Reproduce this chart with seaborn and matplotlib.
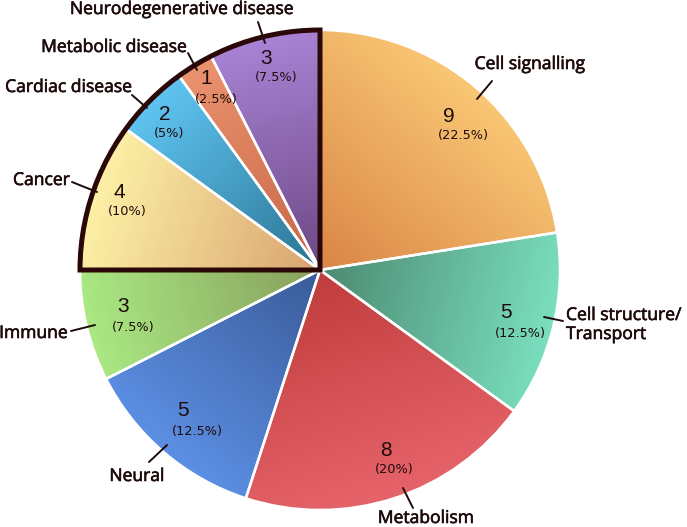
import numpy as np
import matplotlib
matplotlib.use("Agg")
import matplotlib.pyplot as plt
import matplotlib.patheffects as pe
import seaborn as sns
from matplotlib.colors import LinearSegmentedColormap
from matplotlib.path import Path
from matplotlib.patches import PathPatch

# ---------------- data ----------------
categories = ["Cell signalling", "Cell structure/\nTransport", "Metabolism", "Neural",
              "Immune", "Cancer", "Cardiac disease", "Metabolic disease",
              "Neurodegenerative disease"]
counts = [9, 5, 8, 5, 3, 4, 2, 1, 3]
light_colors = ["#F9C774", "#7ADFBF", "#E6636A", "#5C8FE4", "#AAE983",
                "#FDF1A6", "#5FC4F1", "#EB926F", "#A883D5"]
dark_colors = ["#DA8546", "#4C8A72", "#C03D3D", "#3A5B98", "#879F5C",
               "#D9A370", "#2B7493", "#C66646", "#6D4884"]

# ---------------- layout (pixels) ----------------
W, H = 687, 527
CX, CY, R = 320, 270, 240
TXT = "#1E0A0A"
# number label: left x, centre y
num_pos = [(443, 116), (500, 313), (380, 450), (177, 411), (117, 307),
           (113, 192), (159, 114), (200, 79), (260, 58)]
# category label: x, baseline y, ha
cat_pos = [(530, 69, "center"), (566, 320, "left"), (426, 523, "center"),
           (137, 481, "center"), (68, 338, "right"), (70, 185, "right"),
           (132, 92, "right"), (187, 52, "right"), (182, 14, "center")]
leaders = [((477, 99), (492, 81)), ((544, 317), (563, 321)), ((403, 488), (413, 508)),
           ((149, 462), (167, 445)), ((71, 331), (95, 325)), ((72, 182), (97, 192)),
           ((132, 95), (147, 108)), ((188, 53), (197, 70)), ((258, 22), (265, 43))]


def px(x, y):
    return ((x - CX) / R, (CY - y) / R)


sns.set_theme(style="white")
plt.rcParams["font.family"] = ["Open Sans", "DejaVu Sans"]

fig = plt.figure(figsize=(W / 100, H / 100), dpi=100)
ax = fig.add_axes([0, 0, 1, 1])

wedges, _ = ax.pie(counts, startangle=90, counterclock=False, radius=1,
                   wedgeprops=dict(edgecolor="white", linewidth=1.8))

# gradient fills clipped to each wedge
n = 400
gx = np.linspace(-1, 1, n)
GX, GY = np.meshgrid(gx, gx)
for w, lc, dc in zip(wedges, light_colors, dark_colors):
    mid = np.deg2rad((w.theta1 + w.theta2) / 2)
    t = np.clip(GX * np.cos(mid) + GY * np.sin(mid), 0, 1)
    cmap = LinearSegmentedColormap.from_list("g", [dc, lc])
    im = ax.imshow(t, cmap=cmap, vmin=0, vmax=1, extent=(-1, 1, -1, 1),
                   origin="lower", zorder=1, interpolation="bilinear")
    im.set_clip_path(w)
    w.set_facecolor("none")
    w.set_zorder(2)

# thick border around the disease quadrant (last four slices)
total = sum(counts)
disease_frac = sum(counts[5:]) / total
a0 = 90.0
a1 = 90.0 + 360.0 * disease_frac
arc = Path.arc(a0, a1)
verts = [(0, 0)] + list(arc.vertices) + [(0, 0)]
codes = [Path.MOVETO] + [Path.LINETO] + list(arc.codes[1:]) + [Path.CLOSEPOLY]
border = PathPatch(Path(verts, codes), facecolor="none", edgecolor="#2A0808",
                   linewidth=3.6, joinstyle="miter", zorder=3)
ax.add_patch(border)

thick = [pe.withStroke(linewidth=0.45, foreground=TXT)]

# labels
for i, c in enumerate(counts):
    x, y = num_pos[i]
    ax.text(*px(x, y), str(c), ha="left", va="center", fontsize=15,
            family=["Liberation Sans"], color=TXT, zorder=4)
    ax.text(*px(x - 5, y + 20), f"({100 * c / total:g}%)", ha="left", va="center",
            fontsize=9.3, family=["DejaVu Sans"], color=TXT, zorder=4)
    lx, ly, ha = cat_pos[i]
    lines = categories[i].split("\n")
    for k, line in enumerate(lines):
        ax.text(*px(lx, ly + 19 * k), line, ha=ha, va="baseline", fontsize=12.6,
                color=TXT, zorder=4, path_effects=thick)
    (x0, y0), (x1, y1) = leaders[i]
    p0, p1 = px(x0, y0), px(x1, y1)
    ax.plot([p0[0], p1[0]], [p0[1], p1[1]], color=TXT, lw=1.4, zorder=4)

ax.set_xlim(-CX / R, (W - CX) / R)
ax.set_ylim(-(H - CY) / R, CY / R)
ax.set_aspect("equal")
ax.axis("off")

fig.savefig("out.png", dpi=100, facecolor="white")
